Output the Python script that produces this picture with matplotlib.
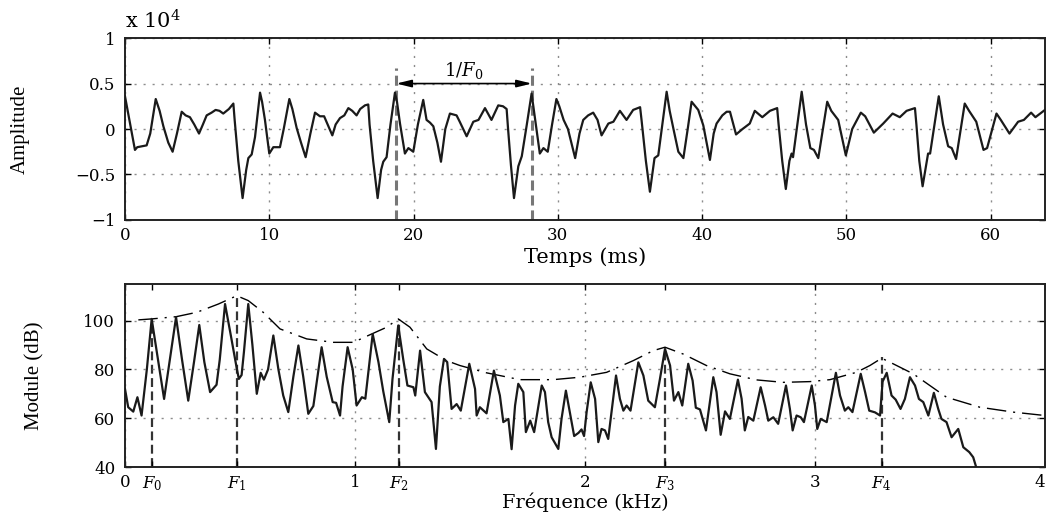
"""
Speech frame: time waveform (top) and magnitude spectrum with LPC envelope (bottom).
Output: out.png
"""
import matplotlib

matplotlib.use("Agg")
import matplotlib.pyplot as plt

# ---- top panel: waveform (ms, amplitude in units of 1e4) ----
TIME_MS = [
    0.00, 0.35, 0.69, 0.85, 1.50, 1.75, 2.13, 2.40, 2.66, 3.00, 3.30, 3.60, 3.93, 4.20,
    4.50, 4.80, 5.13, 5.40, 5.66, 6.00, 6.28, 6.55, 6.81, 7.20, 7.51, 7.60, 7.85, 8.15,
    8.40, 8.55, 8.78, 9.01, 9.36, 9.50, 9.70, 10.00, 10.28, 10.74, 11.00, 11.39, 11.60,
    11.90, 12.20, 12.52, 12.85, 13.17, 13.51, 13.80, 14.37, 14.60, 14.90, 15.20, 15.48,
    15.75, 16.05, 16.30, 16.63, 16.86, 16.95, 17.20, 17.51, 17.75, 17.90, 18.13, 18.40,
    18.71, 18.85, 19.06, 19.40, 19.64, 19.98, 20.30, 20.67, 20.90, 21.14, 21.37, 21.65,
    21.90, 22.20, 22.52, 22.98, 23.20, 23.68, 24.14, 24.50, 24.95, 25.40, 25.87, 26.20,
    26.45, 26.55, 26.75, 26.96, 27.26, 27.50, 27.85, 28.18, 28.30, 28.50, 28.75, 29.00,
    29.30, 29.60, 29.90, 30.10, 30.40, 30.70, 31.20, 31.50, 31.76, 32.10, 32.45, 32.75,
    33.03, 33.50, 33.85, 34.30, 34.76, 35.22, 35.70, 35.80, 36.10, 36.38, 36.70, 36.96,
    37.20, 37.54, 37.75, 38.00, 38.35, 38.70, 39.00, 39.27, 39.73, 40.08, 40.54, 40.80,
    41.00, 41.40, 41.70, 41.93, 42.35, 42.80, 43.30, 43.65, 44.17, 44.70, 45.20, 45.30,
    45.55, 45.80, 46.05, 46.20, 46.30, 46.90, 47.20, 47.50, 47.75, 48.05, 48.67, 48.95,
    49.43, 49.96, 50.40, 51.00, 51.30, 51.90, 52.55, 53.20, 53.70, 54.17, 54.75, 54.85,
    55.05, 55.28, 55.66, 55.80, 56.40, 56.70, 57.05, 57.30, 57.60, 58.20, 58.50, 59.00,
    59.50, 59.75, 60.40, 60.70, 61.30, 61.90, 62.30, 62.80, 63.10, 63.76,
]
AMP_E4 = [
    0.36, 0.06, -0.23, -0.20, -0.18, -0.05, 0.33, 0.20, 0.03, -0.15, -0.25, -0.05, 0.19, 0.15,
    0.13, 0.05, -0.05, 0.05, 0.15, 0.18, 0.21, 0.20, 0.17, 0.22, 0.28, 0.10, -0.35, -0.76,
    -0.45, -0.32, -0.28, -0.09, 0.40, 0.30, 0.10, -0.27, -0.20, -0.20, 0.00, 0.33, 0.22,
    0.01, -0.15, -0.31, -0.05, 0.18, 0.14, 0.14, -0.07, 0.05, 0.12, 0.15, 0.23,
    0.20, 0.15, 0.22, 0.26, 0.27, 0.05, -0.35, -0.76, -0.45, -0.36, -0.31, 0.05,
    0.40, 0.30, 0.06, -0.27, -0.21, -0.25, 0.05, 0.32, 0.10, 0.07, 0.03, -0.15,
    -0.36, 0.00, 0.17, 0.15, 0.08, -0.08, 0.08, 0.10, 0.23, 0.10, 0.26, 0.25,
    0.22, 0.00, -0.40, -0.76, -0.41, -0.30, 0.05, 0.39, 0.25, 0.01, -0.27, -0.21,
    -0.25, 0.05, 0.33, 0.25, 0.10, 0.00, -0.32, -0.05, 0.10, 0.15, 0.18, 0.10,
    -0.07, 0.06, 0.08, 0.20, 0.10, 0.21, 0.24, 0.10, -0.35, -0.69, -0.32, -0.29,
    0.00, 0.41, 0.20, 0.01, -0.25, -0.32, 0.00, 0.30, 0.21, 0.04, -0.34, -0.05,
    0.06, 0.15, 0.19, 0.19, -0.06, 0.00, 0.06, 0.20, 0.13, 0.20, 0.23, 0.05,
    -0.35, -0.66, -0.35, -0.27, -0.31, 0.41, 0.05, -0.21, -0.23, -0.32, 0.30, 0.20,
    0.10, -0.29, 0.00, 0.18, 0.14, -0.04, 0.06, 0.17, 0.13, 0.20, 0.23, 0.05,
    -0.35, -0.63, -0.27, -0.27, 0.36, 0.05, -0.19, -0.21, -0.33, 0.28, 0.20, 0.08,
    -0.23, -0.21, 0.17, 0.10, -0.05, 0.08, 0.10, 0.18, 0.13, 0.21,
]
PERIOD_MARKS = [18.8, 28.2]  # ms, one pitch period

# ---- bottom panel: spectrum (kHz, dB) ----
FREQ_KHZ = [
    0.000, 0.014, 0.036, 0.054, 0.072, 0.095, 0.116, 0.140, 0.170, 0.195, 0.222, 0.248,
    0.275, 0.300, 0.323, 0.345, 0.370, 0.398, 0.412, 0.435, 0.460, 0.485, 0.495, 0.507,
    0.517, 0.536, 0.554, 0.573, 0.590, 0.604, 0.622, 0.645, 0.667, 0.688, 0.710, 0.732,
    0.754, 0.775, 0.797, 0.819, 0.855, 0.877, 0.903, 0.918, 0.935, 0.946, 0.968, 0.990,
    1.007, 1.030, 1.045, 1.077, 1.102, 1.123, 1.149, 1.163, 1.188, 1.210, 1.228, 1.254,
    1.262, 1.283, 1.304, 1.333, 1.352, 1.369, 1.387, 1.401, 1.420, 1.442, 1.460, 1.497,
    1.522, 1.529, 1.543, 1.572, 1.604, 1.630, 1.645, 1.667, 1.681, 1.696, 1.710, 1.732,
    1.743, 1.762, 1.779, 1.812, 1.826, 1.840, 1.855, 1.884, 1.898, 1.917, 1.934, 1.953,
    1.972, 1.985, 1.996, 2.007, 2.025, 2.044, 2.058, 2.072, 2.087, 2.101, 2.135, 2.152,
    2.167, 2.181, 2.198, 2.232, 2.254, 2.275, 2.304, 2.326, 2.348, 2.370, 2.387, 2.406,
    2.423, 2.449, 2.468, 2.482, 2.500, 2.526, 2.558, 2.572, 2.590, 2.609, 2.630, 2.665,
    2.681, 2.695, 2.710, 2.732, 2.764, 2.783, 2.797, 2.819, 2.840, 2.874, 2.891, 2.903,
    2.920, 2.938, 2.952, 2.986, 3.000, 3.010, 3.025, 3.051, 3.091, 3.109, 3.130, 3.145,
    3.163, 3.199, 3.218, 3.236, 3.261, 3.283, 3.294, 3.312, 3.333, 3.351, 3.372, 3.391,
    3.413, 3.435, 3.452, 3.471, 3.493, 3.517, 3.536, 3.550, 3.572, 3.594, 3.623, 3.645,
    3.671, 3.688, 3.703,
]
MODULE_DB = [
    72.0, 64.5, 62.7, 68.6, 61.1, 80.0, 100.7, 86.0, 67.9, 84.0, 101.4, 84.0,
    67.2, 83.0, 98.2, 83.0, 70.7, 73.7, 84.0, 106.8, 94.0, 80.9, 76.1, 77.7,
    87.0, 106.8, 90.0, 70.0, 78.6, 75.8, 80.0, 93.9, 80.0, 69.3, 62.5, 77.0,
    89.8, 77.0, 61.8, 65.0, 89.1, 77.0, 66.6, 66.3, 61.1, 73.0, 89.1, 80.0,
    65.2, 68.6, 68.0, 94.5, 83.0, 71.0, 58.4, 76.0, 98.0, 84.0, 73.4, 72.7,
    69.3, 87.7, 70.7, 66.6, 47.4, 73.0, 84.3, 83.0, 63.8, 65.8, 63.1, 82.3,
    72.0, 61.1, 64.5, 62.0, 79.5, 69.3, 58.4, 59.7, 47.3, 65.2, 74.1, 70.7,
    54.3, 59.0, 54.3, 73.4, 70.7, 58.4, 52.2, 47.4, 59.7, 71.3, 62.4, 52.7,
    54.0, 55.4, 52.7, 62.4, 74.7, 67.9, 50.2, 55.6, 55.0, 51.5, 77.5, 67.9,
    63.1, 65.2, 63.1, 82.9, 77.5, 67.2, 64.5, 76.1, 88.4, 81.6, 67.2, 70.7,
    65.2, 82.3, 75.4, 64.3, 63.6, 55.0, 76.8, 70.7, 53.2, 62.8, 59.7, 75.8,
    68.0, 55.0, 60.5, 59.0, 72.7, 65.2, 59.0, 60.4, 57.7, 73.4, 63.8, 55.0,
    61.1, 60.4, 58.4, 73.4, 65.2, 55.6, 59.7, 58.4, 78.6, 69.3, 63.1, 64.5,
    62.5, 78.2, 70.7, 63.1, 62.4, 61.1, 75.0, 78.6, 69.3, 67.6, 63.8, 67.9,
    76.8, 73.4, 67.9, 66.6, 61.1, 70.4, 63.8, 59.7, 58.4, 52.2, 55.6, 48.1,
    46.1, 44.0, 39.3,
]
ENV_FREQ_KHZ = [
    0.058, 0.116, 0.222, 0.312, 0.406, 0.486, 0.536, 0.601, 0.674, 0.790, 0.906, 0.993,
    1.058, 1.138, 1.188, 1.239, 1.312, 1.398, 1.456, 1.572, 1.717, 1.862, 1.978, 2.094,
    2.210, 2.297, 2.348, 2.427, 2.528, 2.630, 2.746, 2.862, 2.978, 3.065, 3.180, 3.239,
    3.290, 3.340, 3.427, 3.572, 3.717, 3.862, 4.000,
]
ENV_DB = [
    100.3, 100.7, 101.6, 103.4, 106.8, 110.2, 108.2, 103.4, 96.6, 92.5, 91.1, 91.1,
    93.9, 97.3, 100.7, 97.3, 88.4, 83.6, 81.6, 78.6, 75.8, 75.8, 76.8, 78.8,
    83.6, 87.7, 89.1, 86.3, 81.6, 78.2, 75.7, 74.7, 75.0, 75.8, 78.8, 81.6,
    84.6, 82.3, 78.2, 68.6, 64.5, 62.5, 61.1,
]
F_MARK_KHZ = [0.117, 0.487, 1.19, 2.348, 3.29]
F_MARK_TOP_DB = [100.7, 110.9, 100.7, 89.1, 85.0]
F_LABELS = ["$F_0$", "$F_1$", "$F_2$", "$F_3$", "$F_4$"]

TICK_FONT = "DejaVu Serif"
YLABEL_FONT = "Liberation Serif"
GRID_KW = dict(color="#8c8c8c", linestyle=(0, (1.5, 5)), linewidth=1.0)

plt.rcParams["font.family"] = TICK_FONT
plt.rcParams["mathtext.fontset"] = "dejavuserif"


def style_axes(ax):
    ax.tick_params(which="both", direction="in", top=True, right=True,
                   length=4, width=1, labelsize=12, colors="black")
    ax.tick_params(axis="x", which="both", pad=5)
    ax.tick_params(axis="y", pad=7)
    for side in ax.spines.values():
        side.set_linewidth(1.4)
        side.set_color("#222222")
    ax.grid(True, which="major", **GRID_KW)


fig = plt.figure(figsize=(10.46, 5.15), dpi=100)

# ---------------- top: waveform ----------------
ax1 = fig.add_axes([0.1195, 0.573, 0.8795, 0.353])
ax1.plot(TIME_MS, AMP_E4, color="#1a1a1a", linewidth=1.6, zorder=3)
ax1.set_xlim(0, 63.76)
ax1.set_ylim(-1, 1)
ax1.set_xticks([0, 10, 20, 30, 40, 50, 60])
ax1.set_yticks([-1, -0.5, 0, 0.5, 1])
ax1.set_yticklabels(["\u22121", "\u22120.5", "0", "0.5", "1"])
style_axes(ax1)

for t in PERIOD_MARKS:
    ax1.plot([t, t], [-1, 0.67], color="#777777", linewidth=2.2,
             dashes=(3.3, 1.6), zorder=2)
ax1.annotate("", xy=(PERIOD_MARKS[0], 0.5), xytext=(PERIOD_MARKS[1], 0.5),
             arrowprops=dict(arrowstyle="<|-|>,head_length=0.9,head_width=0.22",
                             color="black", lw=1.2, shrinkA=0, shrinkB=0))
ax1.text(sum(PERIOD_MARKS) / 2, 0.64, "$1/F_0$", ha="center", va="center", fontsize=13)
ax1.text(0.0, 1.03, "x 10$^4$", transform=ax1.transAxes, ha="left", va="bottom",
         fontsize=15)

ax1.set_xlabel("Temps (ms)", fontsize=15)
ax1.xaxis.set_label_coords(0.5, -0.15)
ax1.set_ylabel("Amplitude", fontsize=15, family=YLABEL_FONT)
ax1.yaxis.set_label_coords(-0.104, 0.5)

# ---------------- bottom: spectrum ----------------
ax2 = fig.add_axes([0.1195, 0.0932, 0.8795, 0.3553])
ax2.plot(FREQ_KHZ, MODULE_DB, color="#1a1a1a", linewidth=1.6, zorder=3)
ax2.plot(ENV_FREQ_KHZ, ENV_DB, color="black", linewidth=1.0,
         dashes=(14, 5, 1.5, 5), zorder=2)
for f, top in zip(F_MARK_KHZ, F_MARK_TOP_DB):
    ax2.plot([f, f], [40, top], color="#333333", linewidth=1.6,
             dashes=(4, 2), zorder=1)
ax2.set_xlim(0, 4)
ax2.set_ylim(40, 115)
ax2.set_xticks([0, 1, 2, 3, 4])
ax2.set_xticks(F_MARK_KHZ, minor=True)
ax2.set_xticklabels(F_LABELS, minor=True)
ax2.set_yticks([40, 60, 80, 100])
style_axes(ax2)
# last label sits at the figure edge; keep it inside
ax2.get_xticklabels()[-1].set_horizontalalignment("right")

ax2.set_xlabel("Fréquence (kHz)", fontsize=14)
ax2.xaxis.set_label_coords(0.5, -0.142)
ax2.set_ylabel("Module (dB)", fontsize=15, family=YLABEL_FONT)
ax2.yaxis.set_label_coords(-0.087, 0.5)

fig.savefig("out.png", dpi=100)
